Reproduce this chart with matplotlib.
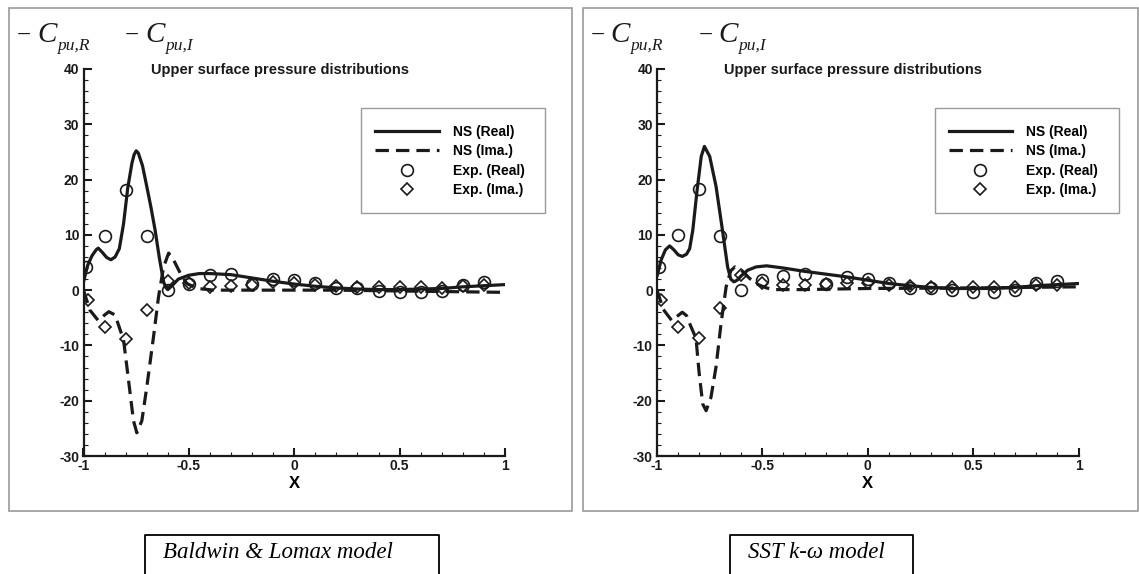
import matplotlib
matplotlib.use("Agg")
import matplotlib.pyplot as plt
from matplotlib.patches import Rectangle
from matplotlib.lines import Line2D
from matplotlib.ticker import MultipleLocator

# ---------------- data ----------------
panel_titles = ["Baldwin & Lomax model", "SST k-\u03c9 model"]
chart_title = "Upper surface pressure distributions"
legend_labels = ["NS (Real)", "NS (Ima.)", "Exp. (Real)", "Exp. (Ima.)"]
y_label_subs = ["pu,R", "pu,I"]
x_ticks = [-1, -0.5, 0, 0.5, 1]
x_tick_labels = ["-1", "-0.5", "0", "0.5", "1"]
y_ticks = [-30, -20, -10, 0, 10, 20, 30, 40]

# Baldwin & Lomax : NS real part
bl_real_x = [-1.0, -0.98, -0.96, -0.94, -0.93, -0.91, -0.89, -0.87, -0.85, -0.83,
             -0.81, -0.79, -0.77, -0.76, -0.75, -0.74, -0.72, -0.70, -0.68, -0.66,
             -0.64, -0.62, -0.61, -0.60, -0.58, -0.55, -0.50, -0.45, -0.40, -0.30,
             -0.20, -0.10, 0.0, 0.1, 0.2, 0.3, 0.4, 0.5, 0.6, 0.7, 0.8, 0.9, 1.0]
bl_real_y = [1.5, 4.5, 6.2, 7.3, 7.6, 6.8, 5.9, 5.5, 6.0, 7.5,
             12.0, 18.5, 23.0, 24.5, 25.2, 24.8, 22.5, 18.8, 15.0, 10.8,
             5.8, 1.5, 0.5, 0.1, 0.8, 2.0, 2.7, 3.0, 3.0, 2.8,
             2.2, 1.6, 1.1, 0.7, 0.4, 0.2, 0.1, 0.1, 0.2, 0.3, 0.6, 0.8, 1.0]
# Baldwin & Lomax : NS imaginary part
bl_imag_x = [-1.0, -0.97, -0.93, -0.90, -0.88, -0.85, -0.81, -0.786, -0.763, -0.747,
             -0.723, -0.70, -0.668, -0.644, -0.62, -0.596, -0.573, -0.54, -0.51, -0.46,
             -0.38, -0.2, 0.0, 0.2, 0.4, 0.6, 0.8, 1.0]
bl_imag_y = [0.0, -3.6, -5.5, -4.5, -3.9, -4.5, -9.0, -16.4, -23.6, -25.8,
             -23.6, -17.6, -8.5, -1.2, 4.2, 6.7, 5.5, 3.0, 1.2, 0.3,
             0.0, 0.0, 0.0, 0.0, -0.1, -0.2, -0.3, -0.4]
# SST k-omega : NS real part
sst_real_x = [-1.0, -0.98, -0.96, -0.94, -0.92, -0.90, -0.88, -0.86, -0.845, -0.83,
              -0.81, -0.79, -0.775, -0.75, -0.72, -0.69, -0.665, -0.65, -0.635, -0.62,
              -0.60, -0.57, -0.53, -0.48, -0.40, -0.30, -0.20, -0.10, 0.0, 0.1,
              0.2, 0.3, 0.4, 0.5, 0.6, 0.7, 0.8, 0.9, 1.0]
sst_real_y = [2.5, 5.5, 7.3, 8.0, 7.3, 6.4, 6.1, 6.5, 7.5, 10.9,
              18.0, 24.2, 26.0, 24.2, 18.8, 11.0, 4.2, 2.0, 1.5, 1.8,
              2.6, 3.6, 4.2, 4.4, 4.0, 3.4, 2.9, 2.4, 1.8, 1.2,
              0.8, 0.5, 0.3, 0.3, 0.3, 0.5, 0.8, 1.0, 1.2]
# SST k-omega : NS imaginary part
sst_imag_x = [-1.0, -0.97, -0.93, -0.90, -0.88, -0.86, -0.84, -0.815, -0.80, -0.783,
              -0.767, -0.744, -0.72, -0.696, -0.672, -0.65, -0.63, -0.60, -0.56, -0.52,
              -0.48, -0.45, -0.30, 0.0, 0.5, 1.0]
sst_imag_y = [0.0, -3.5, -5.5, -4.6, -4.0, -4.6, -6.5, -8.7, -15.0, -20.6,
              -21.8, -19.4, -13.9, -6.0, 0.6, 3.5, 4.2, 3.6, 2.1, 1.0,
              0.4, 0.1, 0.1, 0.3, 0.4, 0.6]

# Experiments
exp_x_real = [-0.99, -0.9, -0.8, -0.7, -0.6, -0.5, -0.4, -0.3, -0.2, -0.1,
              0.0, 0.1, 0.2, 0.3, 0.4, 0.5, 0.6, 0.7, 0.8, 0.9]
exp_x_imag = [-0.98, -0.9, -0.8, -0.7, -0.6, -0.5, -0.4, -0.3, -0.2, -0.1,
              0.0, 0.1, 0.2, 0.3, 0.4, 0.5, 0.6, 0.7, 0.8, 0.9]
bl_exp_real = [4.2, 9.8, 18.2, 9.8, 0.0, 1.2, 2.7, 2.9, 1.2, 2.0,
               1.8, 1.3, 0.4, 0.3, -0.1, -0.3, -0.3, -0.1, 1.0, 1.4]
bl_exp_imag = [-1.8, -6.7, -8.8, -3.6, 1.7, 1.3, 0.6, 0.8, 1.0, 1.5,
               1.3, 1.0, 0.8, 0.6, 0.5, 0.5, 0.5, 0.4, 0.8, 1.0]
sst_exp_real = [4.2, 10.0, 18.3, 9.8, 0.1, 1.8, 2.5, 2.9, 1.2, 2.4,
                2.1, 1.3, 0.4, 0.4, 0.0, -0.3, -0.3, 0.0, 1.3, 1.6]
sst_exp_imag = [-1.7, -6.7, -8.7, -3.3, 2.7, 1.3, 0.9, 0.9, 1.1, 1.3,
                1.3, 1.0, 0.8, 0.6, 0.6, 0.6, 0.6, 0.5, 0.9, 1.0]

panels = [
    (bl_real_x, bl_real_y, bl_imag_x, bl_imag_y, bl_exp_real, bl_exp_imag),
    (sst_real_x, sst_real_y, sst_imag_x, sst_imag_y, sst_exp_real, sst_exp_imag),
]

# ---------------- figure ----------------
W, H = 1139, 574
plt.rcParams["font.family"] = ["Liberation Sans", "DejaVu Sans"]
plt.rcParams["axes.unicode_minus"] = False

fig = plt.figure(figsize=(W / 100, H / 100), dpi=100)
fig.patch.set_facecolor("white")


def fx(px):
    return px / W


def fy(py):
    return 1 - py / H


ink = "#1a1a1a"
gray = "#9a9a9a"
dash = (0, (4.2, 2.2))
serif = "Liberation Serif"

for i, (rx, ry, ix, iy, er, ei) in enumerate(panels):
    off = i * 573.5
    # outer frame
    right_edge = min(572 + off + (11 if i else 0), W - 1)
    fig.patches.append(Rectangle((fx(9 + off), fy(511)), fx(right_edge - 9 - off), 503 / H,
                                 transform=fig.transFigure, fill=False,
                                 edgecolor=gray, linewidth=1.2))

    ax = fig.add_axes([fx(83.5 + off), fy(456), 421.5 / W, 387 / H])
    ax.set_xlim(-1, 1)
    ax.set_ylim(-30, 40)
    for s in ("top", "right"):
        ax.spines[s].set_visible(False)
    for s in ("left", "bottom"):
        ax.spines[s].set_linewidth(1.6)
        ax.spines[s].set_color(ink)
    ax.set_xticks(x_ticks)
    ax.set_xticklabels(x_tick_labels)
    ax.set_yticks(y_ticks)
    ax.xaxis.set_minor_locator(MultipleLocator(0.1))
    ax.yaxis.set_minor_locator(MultipleLocator(2))
    ax.tick_params(which="major", direction="in", length=6, width=1.5, colors=ink,
                   labelsize=10, pad=3)
    ax.tick_params(which="minor", direction="in", length=3, width=0.8, colors=ink)
    ax.tick_params(axis="x", which="major", pad=2)
    for lab in ax.get_xticklabels() + ax.get_yticklabels():
        lab.set_fontweight("bold")
    ax.set_xlabel("X", fontsize=12, fontweight="bold", labelpad=2)
    ax.patch.set_alpha(0)

    ax.plot(rx, ry, color=ink, linewidth=2.3, solid_capstyle="round")
    ax.plot(ix, iy, color=ink, linewidth=2.3, linestyle=dash)
    ax.plot(exp_x_real, er, linestyle="none", marker="o", markersize=8.5,
            markerfacecolor="none", markeredgecolor=ink, markeredgewidth=1.2)
    ax.plot(exp_x_imag, ei, linestyle="none", marker="D", markersize=6.3,
            markerfacecolor="none", markeredgecolor=ink, markeredgewidth=1.2)

    # title
    fig.text(fx(151 + off), fy(70), chart_title, fontsize=10.5, fontweight="bold",
             ha="left", va="center", color=ink)
    # y labels: -C with subscript
    for x0, sub in zip((17, 125), y_label_subs):
        fig.text(fx(x0 + off), fy(42), "\u2212", fontsize=18, family=serif,
                 ha="left", va="baseline", color=ink)
        fig.text(fx(x0 + 20 + off), fy(42), "C", fontsize=21, family=serif,
                 style="italic", ha="left", va="baseline", color=ink)
        fig.text(fx(x0 + 40 + off), fy(50), sub, fontsize=12.5, family=serif,
                 style="italic", ha="left", va="baseline", color=ink)

    # legend box
    fig.patches.append(Rectangle((fx(361 + off), fy(213)), 184 / W, 105 / H,
                                 transform=fig.transFigure, fill=False,
                                 edgecolor=gray, linewidth=1.0))
    handles = [
        Line2D([], [], color=ink, linewidth=2.3),
        Line2D([], [], color=ink, linewidth=2.3, linestyle=dash),
        Line2D([], [], linestyle="none", marker="o", markersize=8.5,
               markerfacecolor="none", markeredgecolor=ink, markeredgewidth=1.2),
        Line2D([], [], linestyle="none", marker="D", markersize=6.3,
               markerfacecolor="none", markeredgecolor=ink, markeredgewidth=1.2),
    ]
    leg = ax.legend(handles, legend_labels, loc="upper left",
                    bbox_to_anchor=(fx(375 + off), fy(125)),
                    bbox_transform=fig.transFigure, frameon=False,
                    handlelength=4.6, handletextpad=1.0, labelspacing=0.38,
                    borderpad=0, borderaxespad=0,
                    prop={"weight": "bold", "size": 10})

# bottom caption boxes
for (x0, x1, tx), name in zip([(144.5, 439, 163), (730, 913, 748)], panel_titles):
    fig.lines.append(Line2D([fx(x0), fx(x0), fx(x1), fx(x1)],
                            [0, fy(535), fy(535), 0], transform=fig.transFigure,
                            color="black", linewidth=1.3))
    fig.text(fx(tx), fy(553), name, fontsize=16.5, family=serif,
             style="italic", ha="left", va="center", color="black")

fig.savefig("out.png", dpi=100, facecolor="white")
